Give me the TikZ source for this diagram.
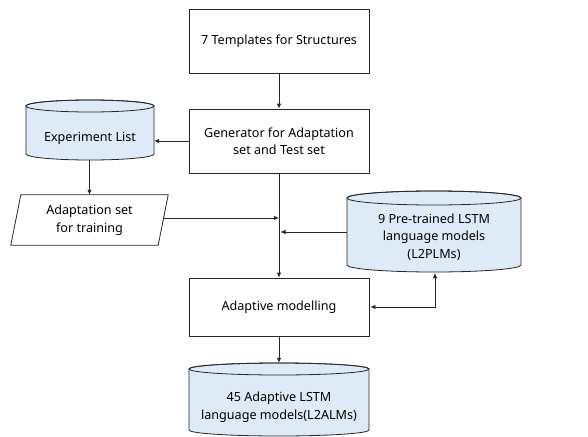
\documentclass[tikz,border=0pt]{standalone}
\usepackage{fontspec}
\setmainfont{Noto Sans}
\usetikzlibrary{arrows.meta}
\definecolor{dbfill}{HTML}{DEEBF7}
\definecolor{linec}{HTML}{262626}
\tikzset{
  base/.style={font=\fontsize{12.6}{17.5}\selectfont, align=center, text=black},
  procbox/.style={base, draw=linec, line width=0.8pt, fill=white, minimum width=180pt, inner sep=0pt},
  label/.style={base, inner sep=0pt},
  conn/.style={draw=linec, line width=0.8pt, -{Latex[length=5pt,width=4.5pt]}},
  cyl/.style={draw=linec, line width=0.8pt, fill=dbfill},
}
% cylinder: #1 left x, #2 right x, #3 top ellipse centre y, #4 bottom ellipse centre y, #5 y radius
\newcommand{\dbcyl}[5]{%
  \pgfmathsetmacro{\rx}{(#2-#1)/2}%
  \pgfmathsetmacro{\cx}{(#2+#1)/2}%
  \path[cyl] (#1,#3) -- (#1,#4) arc[start angle=180,end angle=360,x radius=\rx,y radius=-#5]
     -- (#2,#3) arc[start angle=0,end angle=180,x radius=\rx,y radius=-#5] -- cycle;
  \draw[linec, line width=0.8pt] (\cx,#3) ellipse[x radius=\rx, y radius=#5];
}
\begin{document}
\begin{tikzpicture}[x=1pt,y=-1pt]
\useasboundingbox (0,0) rectangle (588,436);

% process boxes
\node[procbox, minimum height=64pt] (tpl) at (279,41) {7 Templates for Structures};
\node[procbox, minimum height=64pt] (gen) at (279,141) {Generator for Adaptation\\set and Test set};
\node[procbox, minimum height=58pt] (adm) at (279,307) {Adaptive modelling};

% data stores
\dbcyl{26}{154}{106}{154}{6}
\node[label, minimum width=128pt, minimum height=60pt] (exp) at (90,130) {};
\node[label] at (90,138) {Experiment List};

\dbcyl{347}{521}{198}{265}{7}
\node[label, minimum width=174pt, minimum height=82pt] (plm) at (434,232) {};
\node[label] at (434,237) {9 Pre-trained LSTM\\language models\\(L2PLMs)};

\dbcyl{189}{369}{369}{430}{6}
\node[label, minimum width=180pt, minimum height=72pt] (alm) at (279,399) {};
\node[label] at (279,407) {45 Adaptive LSTM\\language models(L2ALMs)};

% input parallelogram
\node[label, minimum width=157pt, minimum height=50pt] (ada) at (89.5,220) {Adaptation set\\for training};
\draw[linec, line width=0.8pt] (ada.south west) -- ([xshift=10pt]ada.north west)
  -- (ada.north east) -- ([xshift=-10pt]ada.south east) -- cycle;

% junctions on the main flow line
\coordinate (j1) at (gen.south |- 0,218);
\coordinate (j2) at (gen.south |- 0,232);
\coordinate (pr) at (163.4,218);
\coordinate (plmb) at (435,273);

% connectors
\draw[conn] (tpl) -- (gen);
\draw[conn] (gen.west) -- (exp.east |- gen.west);
\draw[conn] (exp.south -| ada.north) -- (ada.north);
\draw[conn] (gen.south) -- (adm.north);
\draw[conn] (pr) -- (j1);
\draw[conn] (plm.west |- j2) -- ([xshift=1.5pt]j2);
\draw[conn, {Latex[length=5pt,width=4.5pt]}-{Latex[length=5pt,width=4.5pt]}] ([xshift=1pt]adm.east) -| (plmb);
\draw[conn] (adm.south) -- (alm.north);
\end{tikzpicture}
\end{document}
